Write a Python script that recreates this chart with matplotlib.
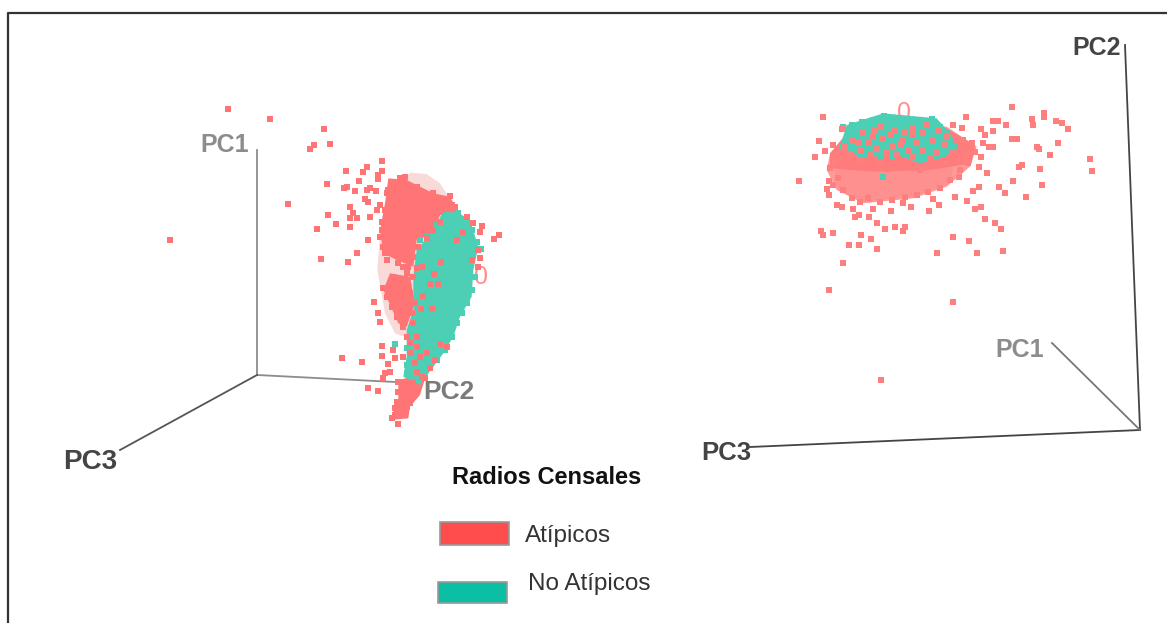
import numpy as np
import matplotlib.pyplot as plt
from matplotlib.patches import Polygon, Rectangle

# all readings are in picture pixels, taken from 3x crops for the two clouds
left_origin = (150, 90)
right_origin = (780, 90)

left_atipicos = [(235,58),(361,88),(523,118),(541,162),(491,165),(481,178),(697,214),(589,244),(650,232),(640,245),
    (697,243),(685,255),(685,268),(628,273),(532,283),(582,294),(592,290),(615,303),(650,300),(660,295),(678,303),
    (645,328),(655,335),(415,343),(600,352),(690,345),(680,360),(660,380),(535,376),(610,370),(620,385),(600,385),
    (558,403),(502,416),(600,410),(655,449),(61,449),(622,490),(514,508),(595,515),(672,635),(685,668),(690,695),
    (697,768),(697,798),(577,803),(637,815),(715,822),(705,850),(700,865),(655,893),(685,903),(745,1003),(725,985),
    (735,975),(760,965),(740,935),(780,940),(1047,436),(1033,448),(997,407),(990,425),(950,380),(970,400),(900,318),
    (915,350),(765,262),(725,275),(740,290),(712,310),(695,420),(700,470),(710,510),(745,520),(730,560),(760,570),
    (770,590),(700,595),(712,620),(725,650),(740,680),(920,450),(872,515),(853,552),(840,582),(865,582),(818,617),
    (813,657),(846,657),(800,740),(790,700),(800,770),(780,790),(735,805),(760,800),(795,820),(830,790),(855,810),
    (870,762),(890,770),(745,875),(760,895),(775,915),(800,905),(825,865),(800,535),(815,530),(790,560),(985,480),
    (990,505),(965,510),(940,425),(985,530),(720,330),(705,360),(695,395),(715,300),(750,265),(800,290),(850,310),
    (880,330),(905,345),(870,395),(850,420),(830,445),(805,470),(790,500),(775,530),(770,550),(720,440),(735,470),
    (690,440),(705,490),(760,530),(780,610),(795,640),(785,670),(760,710),(770,740),(780,760),(810,800),(840,835),
    (815,860),(790,880),(745,905),(755,930),(770,950),(735,955),(720,845),(730,780),(800,845)]

left_no_atipicos = [(735,762),(925,370),(945,395),(965,420),(980,455),(993,478),(975,560),(965,600),(950,640),(935,670),
    (920,700),(905,740),(885,780),(860,810),(770,825),(770,850),(790,870),(770,775),(810,450),(830,440),(860,405),(890,375)]

left_pale = [(780,248),(830,252),(870,280),(895,320),(880,420),(790,640),(775,745),(735,730),(705,670),(682,540),(690,430),(720,320)]
left_red_top = [(715,265),(770,270),(850,310),(900,320),(925,365),(870,375),(850,430),(800,450),(790,530),(740,510),(700,490),(690,420),(705,340)]
left_red_low = [(720,550),(780,560),(795,640),(770,710),(745,700),(700,600)]
left_teal = [(920,365),(960,390),(985,470),(970,540),(965,620),(930,680),(910,740),(880,790),(850,830),(810,885),(760,860),
    (770,800),(770,720),(790,660),(790,560),(800,480),(860,410),(875,370)]
left_tail = [(745,870),(830,850),(810,915),(780,950),(775,985),(720,990),(745,925)]

right_atipicos = [(695,52),(130,82),(557,82),(791,70),(791,82),(755,88),(827,94),(845,100),(640,94),(655,94),(677,106),(760,106),
    (863,118),(603,118),(640,124),(616,136),(696,148),(712,148),(118,154),(833,160),(610,160),(628,172),(772,172),(778,178),
    (640,172),(136,184),(106,202),(809,196),(604,202),(929,208),(598,232),(725,226),(718,232),(779,238),(935,244),(622,250),
    (58,274),(148,274),(538,262),(700,274),(785,286),(598,292),(580,304),(658,292),(676,310),(737,322),(526,322),(562,334),
    (142,298),(148,316),(172,346),(186,352),(220,358),(238,376),(226,382),(268,382),(280,358),(292,400),(316,418),(346,412),
    (376,412),(370,424),(124,424),(130,436),(160,430),(244,436),(274,448),(208,466),(238,466),(292,478),(190,520),(148,600),
    (520,442),(568,454),(472,490),(592,490),(670,484),(520,636),(304,870),(616,388),(646,400),(664,418),(586,358),(604,352),
    (460,328),(478,346),(448,364),(394,352),(332,364),(370,340),(160,166),(186,116),
    # over the teal part of the cloud
    (250,130),(285,120),(345,122),(400,115),(430,125),(220,150),(265,155),(310,145),(370,150),(410,160),(455,150),(495,165),
    (195,170),(240,180),(290,175),(340,170),(385,180),(430,180),(470,190),(515,185),(550,150),(520,105),(545,115),(575,160),
    (240,210),(300,215),(420,240),(500,215),(300,110),(330,135),(360,165),(395,135),(440,105),(475,120),(500,140),(350,195),
    (320,185),(270,195),(210,195),(450,205),(395,200),(375,130),(280,140),(235,160),(180,195),(165,215),(150,235),(175,265),
    (160,285),(190,300),(215,325),(240,335),(265,325),(300,335),(335,330),(375,320),(410,315),(445,305),(480,295),(510,270),
    (540,240),(565,220),(585,185),(560,195),(530,210)]

right_no_atipicos = [(190,112),(215,105),(245,95),(280,90),(312,78),(340,92),(380,90),(420,92),(455,88),(480,110),(500,130),
    (510,150),(525,172),(490,195),(455,198),(415,208),(375,195),(335,200),(300,198),(240,200),(185,172),(310,262)]

right_pale = [(150,190),(250,100),(500,110),(590,170),(570,230),(500,290),(400,325),(250,340),(170,300),(140,240)]
right_light = [(165,240),(300,225),(520,225),(510,280),(400,320),(250,335),(175,300)]
right_dark = [(150,190),(200,130),(500,115),(585,165),(575,220),(450,240),(280,245),(150,235)]
right_teal = [(180,170),(200,105),(310,70),(470,85),(510,130),(530,180),(480,205),(420,220),(340,190),(250,205),(200,180)]

axis_lines = [
    ((257,150),(257,375),"#8c8c8c"), ((257,375),(415,383),"#8c8c8c"), ((257,375),(120,450),"#555555"),
    ((1125,45),(1140,430),"#444444"), ((1140,430),(750,447),"#444444"), ((1140,430),(1052,343),"#777777"),
]
axis_labels = [
    ("PC1",225,145,"#8c8c8c",18), ("PC2",449,392,"#7a7a7a",19), ("PC3",90,462,"#444444",20),
    ("PC2",1097,48,"#444444",18), ("PC1",1020,350,"#8c8c8c",18), ("PC3",726,453,"#444444",18.5),
]
zero_labels = [(481,277),(904,113)]

legend_labels = ["Atípicos", "No Atípicos"]
legend_colors = ["#FF4D4D", "#0ABFA3"]


def crop(points, origin):
    return np.array(points) / 3 + np.array(origin)


plt.rcParams["font.family"] = ["Liberation Sans", "DejaVu Sans"]
fig = plt.figure(figsize=(11.67, 6.23), dpi=100)
ax = fig.add_axes([0, 0, 1, 1])
ax.set_xlim(0, 1167)
ax.set_ylim(623, 0)
ax.axis("off")

# picture frame
ax.plot([8, 8, 1167], [623, 13, 13], color="#333333", lw=1.6, zorder=1)

for a, b, c in axis_lines:
    ax.plot([a[0], b[0]], [a[1], b[1]], color=c, lw=1.3, zorder=1)
for s, x, y, c, size in axis_labels:
    ax.text(x, y, s, color=c, fontsize=size, fontweight="bold", ha="center", va="center", zorder=6)
for x, y in zero_labels:
    ax.text(x, y, "0", color="#FF8F8F", fontsize=18, ha="center", va="center", zorder=2)

red = "#FF7575"
teal = "#4CCFB4"

ax.add_patch(Polygon(crop(left_pale, left_origin), fc="#FAD9D9", ec="none", zorder=2))
ax.add_patch(Polygon(crop(left_red_top, left_origin), fc=red, ec="none", zorder=3))
ax.add_patch(Polygon(crop(left_red_low, left_origin), fc=red, ec="none", zorder=3))
ax.add_patch(Polygon(crop(left_tail, left_origin), fc=red, ec="none", zorder=3))
ax.add_patch(Polygon(crop(left_teal, left_origin), fc=teal, ec="none", zorder=4))
p = crop(left_no_atipicos, left_origin)
ax.scatter(p[:, 0], p[:, 1], s=24, marker="s", c=teal, linewidths=0, zorder=4)
p = crop(left_atipicos, left_origin)
ax.scatter(p[:, 0], p[:, 1], s=24, marker="s", c=red, linewidths=0, zorder=5)

ax.add_patch(Polygon(crop(right_pale, right_origin), fc="#FF9A9A", ec="none", zorder=2))
ax.add_patch(Polygon(crop(right_light, right_origin), fc="#FF9090", ec="none", zorder=2))
ax.add_patch(Polygon(crop(right_dark, right_origin), fc="#FF7C7C", ec="none", zorder=3))
ax.add_patch(Polygon(crop(right_teal, right_origin), fc=teal, ec="none", zorder=4))
p = crop(right_no_atipicos, right_origin)
ax.scatter(p[:, 0], p[:, 1], s=22, marker="s", c=teal, linewidths=0, zorder=4)
p = crop(right_atipicos, right_origin)
ax.scatter(p[:, 0], p[:, 1], s=22, marker="s", c="#FF7F7F", linewidths=0, zorder=5)

# legend is placed by hand like the original
ax.text(547, 477, "Radios Censales", fontsize=17, fontweight="bold", color="#111111", ha="center", va="center")
ax.add_patch(Rectangle((440, 522), 69, 23, fc=legend_colors[0], ec="#999999", lw=1.2))
ax.add_patch(Rectangle((438, 582), 69, 21, fc=legend_colors[1], ec="#999999", lw=1.2))
ax.text(525, 536, legend_labels[0], fontsize=17.5, color="#333333", va="center")
ax.text(528, 584, legend_labels[1], fontsize=17.5, color="#333333", va="center")

fig.savefig("out.png", dpi=100)
